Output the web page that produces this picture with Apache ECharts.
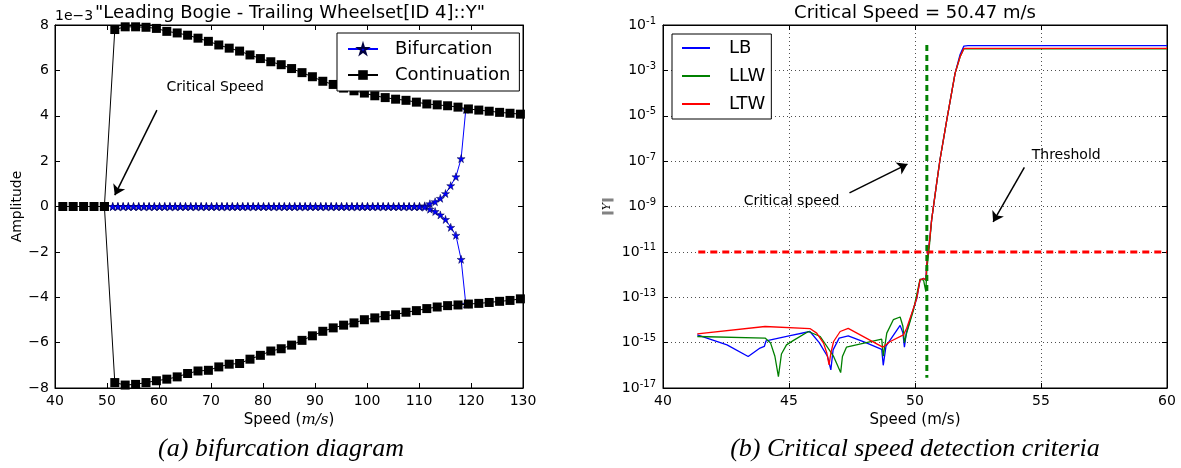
<!DOCTYPE html>
<html>
<head>
<meta charset="utf-8">
<script src="https://cdn.jsdelivr.net/npm/echarts@6/dist/echarts.min.js"></script>
<style>
html, body { margin: 0; padding: 0; background: #fff; }
#main { width: 1181px; height: 468px; }
</style>
</head>
<body>
<div id="main"></div>
<script>
// ---- (a) bifurcation diagram, amplitude in units of 1e-3 ----
var contSpeed = [41.5, 43.5, 45.5, 47.5, 49.5, 51.5, 53.5, 55.5, 57.5, 59.5,
  61.5, 63.5, 65.5, 67.5, 69.5, 71.5, 73.5, 75.5, 77.5, 79.5,
  81.5, 83.5, 85.5, 87.5, 89.5, 91.5, 93.5, 95.5, 97.5, 99.5,
  101.5, 103.5, 105.5, 107.5, 109.5, 111.5, 113.5, 115.5, 117.5, 119.5,
  121.5, 123.5, 125.5, 127.5, 129.5];
var contUpper = [0, 0, 0, 0, 0, 7.80, 7.92, 7.92, 7.90, 7.85,
  7.72, 7.65, 7.55, 7.42, 7.28, 7.12, 6.98, 6.85, 6.68, 6.52,
  6.38, 6.25, 6.08, 5.90, 5.72, 5.52, 5.38, 5.22, 5.10, 5.00,
  4.88, 4.80, 4.73, 4.68, 4.60, 4.52, 4.48, 4.44, 4.38, 4.30,
  4.25, 4.20, 4.15, 4.11, 4.07];
var contLower = [null, null, null, null, 0, -7.76, -7.87, -7.84, -7.76, -7.68,
  -7.61, -7.51, -7.36, -7.25, -7.22, -7.07, -6.95, -6.92, -6.73, -6.56,
  -6.37, -6.27, -6.11, -5.90, -5.70, -5.50, -5.35, -5.23, -5.13, -4.99,
  -4.91, -4.81, -4.77, -4.66, -4.59, -4.50, -4.43, -4.37, -4.34, -4.30,
  -4.27, -4.23, -4.18, -4.14, -4.07];

var bifSpeed = [51.1, 52.1, 53.1, 54.1, 55.1, 56.1, 57.1, 58.1, 59.1, 60.1,
  61.1, 62.1, 63.1, 64.1, 65.1, 66.1, 67.1, 68.1, 69.1, 70.1,
  71.1, 72.1, 73.1, 74.1, 75.1, 76.1, 77.1, 78.1, 79.1, 80.1,
  81.1, 82.1, 83.1, 84.1, 85.1, 86.1, 87.1, 88.1, 89.1, 90.1,
  91.1, 92.1, 93.1, 94.1, 95.1, 96.1, 97.1, 98.1, 99.1, 100.1,
  101.1, 102.1, 103.1, 104.1, 105.1, 106.1, 107.1, 108.1, 109.1, 110.1,
  111.1, 112.1, 113.1, 114.1, 115.1, 116.1, 117.1, 118.1, 119.0];
var bifUpper = [0, 0, 0, 0, 0, 0, 0, 0, 0, 0,
  0, 0, 0, 0, 0, 0, 0, 0, 0, 0,
  0, 0, 0, 0, 0, 0, 0, 0, 0, 0,
  0, 0, 0, 0, 0, 0, 0, 0, 0, 0,
  0, 0, 0, 0, 0, 0, 0, 0, 0, 0,
  0, 0, 0, 0, 0, 0, 0, 0, 0, 0.01,
  0.03, 0.12, 0.21, 0.36, 0.57, 0.92, 1.31, 2.11, 4.28];
var bifLower = [0, 0, 0, 0, 0, 0, 0, 0, 0, 0,
  0, 0, 0, 0, 0, 0, 0, 0, 0, 0,
  0, 0, 0, 0, 0, 0, 0, 0, 0, 0,
  0, 0, 0, 0, 0, 0, 0, 0, 0, 0,
  0, 0, 0, 0, 0, 0, 0, 0, 0, 0,
  0, 0, 0, 0, 0, 0, 0, 0, 0, -0.01,
  -0.03, -0.12, -0.22, -0.37, -0.57, -0.92, -1.27, -2.33, -4.30];

// ---- (b) critical speed detection, values are log10 ||Y|| ----
var lbSpeed = [41.36, 42.54, 43.38, 43.85, 44.02, 44.09, 45.0, 45.83, 46.2, 46.53,
  46.66, 46.75, 46.99, 47.35, 48.0, 48.68, 48.74, 48.85, 49.14, 49.41,
  49.52, 49.58, 49.65, 49.87, 50.07, 50.2, 50.34, 50.43, 50.47, 50.58,
  50.66, 50.86, 50.99, 51.26, 51.59, 51.79, 51.94, 52.1, 60];
var lbLog = [-14.66, -15.10, -15.61, -15.24, -15.17, -14.92, -14.70, -14.51, -15.0, -15.61,
  -16.2, -15.32, -14.80, -14.70, -14.98, -15.30, -16.0, -15.15, -14.68, -14.24,
  -14.57, -15.2, -14.60, -13.75, -13.05, -12.24, -12.17, -12.24, -11.5, -10.48,
  -9.59, -7.97, -6.95, -5.19, -3.13, -2.30, -1.93, -1.91, -1.91];

var llwSpeed = [41.36, 44.05, 44.27, 44.44, 44.58, 44.7, 44.9, 45.18, 45.77, 46.24,
  46.77, 47.05, 47.12, 47.28, 48.68, 48.74, 48.88, 49.14, 49.41, 49.52,
  49.58, 49.67, 49.94, 50.2, 50.34, 50.43, 50.47, 50.58, 50.66, 50.86,
  50.99, 51.26, 51.59, 51.79, 51.94, 60];
var llwLog = [-14.73, -14.80, -15.02, -15.6, -16.5, -15.5, -15.1, -14.9, -14.51, -14.73,
  -15.61, -16.32, -15.61, -15.2, -14.85, -15.6, -14.58, -13.99, -13.87, -14.28,
  -15.0, -14.57, -13.56, -12.2, -12.24, -12.75, -11.79, -10.63, -9.59, -7.97,
  -6.95, -5.19, -3.13, -2.40, -2.05, -2.05];

var ltwSpeed = [41.36, 44.05, 45.83, 46.10, 46.37, 46.5, 46.59, 46.66, 46.77, 47.03,
  47.35, 48.72, 49.0, 49.54, 49.67, 49.87, 50.07, 50.2, 50.34, 50.43,
  50.47, 50.58, 50.66, 50.86, 50.99, 51.26, 51.59, 51.79, 51.94, 60];
var ltwLog = [-14.61, -14.29, -14.38, -14.58, -15.02, -15.46, -15.98, -15.46, -14.95, -14.51,
  -14.37, -15.2, -14.96, -14.66, -14.37, -13.71, -13.05, -12.24, -12.17, -12.24,
  -11.5, -10.48, -9.59, -7.97, -6.95, -5.19, -3.13, -2.40, -2.03, -2.03];

var criticalSpeed = 50.47;
var criticalSpan = [-1.88, -16.55];
var thresholdLog = -11;
var thresholdSpan = [41.4, 60];

function zip(xs, ys) {
  var out = [];
  for (var i = 0; i < xs.length; i++) out.push([xs[i], ys[i]]);
  return out;
}

var FONT = 'DejaVu Sans';
var STAR = 'path://M50,0 L61,35 L98,35 L68,57 L79,91 L50,70 L21,91 L32,57 L2,35 L39,35 Z';

var chart = echarts.init(document.getElementById('main'), null, { renderer: 'canvas' });

function frameAxis(gridIndex, pos, min, max, interval) {
  return {
    type: 'value', gridIndex: gridIndex, position: pos,
    min: min, max: max, interval: interval,
    axisLine: { show: true, onZero: false, lineStyle: { color: '#000', width: 1 } },
    axisTick: { show: true, inside: true, length: 5, lineStyle: { color: '#000' } },
    axisLabel: { show: false },
    splitLine: { show: false }
  };
}

var option = {
  animation: false,
  backgroundColor: '#fff',
  textStyle: { fontFamily: FONT },
  grid: [
    { left: 55, right: 658, top: 25, bottom: 80, show: true, borderColor: '#000', borderWidth: 1, containLabel: false },
    { left: 663, right: 14, top: 25, bottom: 80, show: true, borderColor: '#000', borderWidth: 1, containLabel: false }
  ],
  legend: [
    {
      data: ['Bifurcation', 'Continuation'],
      orient: 'vertical', left: 337, top: 33,
      padding: [7, 9, 7, 10], itemGap: 8, itemWidth: 30, itemHeight: 12,
      borderColor: '#000', borderWidth: 1, borderRadius: 0, backgroundColor: '#fff',
      textStyle: { fontSize: 18, color: '#000', fontFamily: FONT, padding: [0, 0, 0, 12] },
      selectedMode: false
    },
    {
      data: ['LB', 'LLW', 'LTW'],
      orient: 'vertical', left: 672, top: 34,
      icon: 'rect',
      padding: [5, 6, 6, 10], itemGap: 10, itemWidth: 28, itemHeight: 2,
      borderColor: '#000', borderWidth: 1, borderRadius: 0, backgroundColor: '#fff',
      textStyle: { fontSize: 18, color: '#000', fontFamily: FONT, padding: [0, 0, 0, 14] },
      selectedMode: false
    }
  ],
  xAxis: [
    {
      type: 'value', gridIndex: 0, position: 'bottom', min: 40, max: 130, interval: 10,
      name: 'Speed ({i|m/s})', nameLocation: 'middle', nameGap: 22,
      nameTextStyle: { fontSize: 15, color: '#000', fontFamily: FONT,
        rich: { i: { fontSize: 15, fontStyle: 'italic', fontFamily: 'DejaVu Serif', color: '#000' } } },
      axisLine: { show: true, onZero: false, lineStyle: { color: '#000' } },
      axisTick: { show: true, inside: true, length: 5, lineStyle: { color: '#000' } },
      axisLabel: { fontSize: 14, color: '#000', margin: 6, fontFamily: FONT },
      splitLine: { show: false }
    },
    frameAxis(0, 'top', 40, 130, 10),
    {
      type: 'value', gridIndex: 1, position: 'bottom', min: 40, max: 60, interval: 5,
      name: 'Speed (m/s)', nameLocation: 'middle', nameGap: 22,
      nameTextStyle: { fontSize: 15, color: '#000', fontFamily: FONT },
      axisLine: { show: true, onZero: false, lineStyle: { color: '#000' } },
      axisTick: { show: true, inside: true, length: 5, lineStyle: { color: '#000' } },
      axisLabel: { fontSize: 14, color: '#000', margin: 6, fontFamily: FONT },
      splitLine: { show: true, lineStyle: { color: '#222', width: 0.8, type: [1, 3] } }
    },
    frameAxis(1, 'top', 40, 60, 5)
  ],
  yAxis: [
    {
      type: 'value', gridIndex: 0, position: 'left', min: -8, max: 8, interval: 2,
      name: 'Amplitude', nameLocation: 'middle', nameGap: 30, nameRotate: 90,
      nameTextStyle: { fontSize: 14, color: '#000', fontFamily: FONT },
      axisLine: { show: true, onZero: false, lineStyle: { color: '#000' } },
      axisTick: { show: true, inside: true, length: 5, lineStyle: { color: '#000' } },
      axisLabel: { fontSize: 14, color: '#000', margin: 6, fontFamily: FONT,
        formatter: function (v) { return String(v).replace('-', '\u2212'); } },
      splitLine: { show: false }
    },
    frameAxis(0, 'right', -8, 8, 2),
    {
      type: 'value', gridIndex: 1, position: 'left', min: -17, max: -1, interval: 2,
      name: '\u2016Y\u2016', nameLocation: 'middle', nameGap: 50, nameRotate: 90,
      nameTextStyle: { fontSize: 11, color: '#000', fontFamily: 'DejaVu Serif', fontStyle: 'italic' },
      axisLine: { show: true, onZero: false, lineStyle: { color: '#000' } },
      axisTick: { show: true, inside: true, length: 5, lineStyle: { color: '#000' } },
      axisLabel: { color: '#000', margin: 7, fontFamily: FONT,
        formatter: function (v) { return '{b|10}{s|' + v + '}'; },
        rich: {
          b: { fontSize: 14, color: '#000', fontFamily: FONT, lineHeight: 18 },
          s: { fontSize: 10, color: '#000', fontFamily: FONT, verticalAlign: 'top', lineHeight: 18, padding: [0, 0, 6, 0] }
        } },
      splitLine: { show: true, lineStyle: { color: '#222', width: 0.8, type: [1, 3] } }
    },
    frameAxis(1, 'right', -17, -1, 2)
  ],
  series: [
    {
      name: 'Bifurcation', type: 'line', xAxisIndex: 0, yAxisIndex: 0,
      data: zip(bifSpeed, bifUpper),
      symbol: STAR, symbolSize: 8, showAllSymbol: true,
      lineStyle: { color: '#0000ff', width: 1 },
      itemStyle: { color: '#0000ff', borderColor: '#000040', borderWidth: 0.5 },
      z: 2
    },
    {
      name: 'Bifurcation', type: 'line', xAxisIndex: 0, yAxisIndex: 0,
      data: zip(bifSpeed, bifLower),
      symbol: STAR, symbolSize: 8, showAllSymbol: true,
      lineStyle: { color: '#0000ff', width: 1 },
      itemStyle: { color: '#0000ff', borderColor: '#000040', borderWidth: 0.5 },
      z: 2
    },
    {
      name: 'Continuation', type: 'line', xAxisIndex: 0, yAxisIndex: 0,
      data: zip(contSpeed, contUpper),
      symbol: 'rect', symbolSize: 9, showAllSymbol: true,
      lineStyle: { color: '#000', width: 1 },
      itemStyle: { color: '#000' },
      z: 3,
      markLine: {
        silent: true, symbol: ['none', 'arrow'], symbolSize: 10,
        label: { show: false },
        lineStyle: { color: '#000', width: 1.5, type: 'solid' },
        data: [[{ coord: [59.6, 4.25] }, { coord: [51.5, 0.5] }]]
      },
      markPoint: {
        silent: true, symbol: 'rect', symbolSize: 1,
        itemStyle: { color: 'rgba(0,0,0,0)' },
        label: { show: true, position: 'inside', formatter: '{b}', color: '#000', fontSize: 14, fontFamily: FONT },
        data: [{ name: 'Critical Speed', coord: [70.8, 5.25] }]
      }
    },
    {
      name: 'Continuation', type: 'line', xAxisIndex: 0, yAxisIndex: 0,
      data: zip(contSpeed, contLower),
      symbol: 'rect', symbolSize: 9, showAllSymbol: true,
      lineStyle: { color: '#000', width: 1 },
      itemStyle: { color: '#000' },
      z: 3
    },
    {
      name: 'Threshold', type: 'line', xAxisIndex: 2, yAxisIndex: 2,
      data: [[thresholdSpan[0], thresholdLog], [thresholdSpan[1], thresholdLog]],
      symbol: 'none',
      lineStyle: { color: '#ff0000', width: 3, type: [7, 5] },
      z: 2
    },
    {
      name: 'LB', type: 'line', xAxisIndex: 2, yAxisIndex: 2,
      data: zip(lbSpeed, lbLog), symbol: 'none',
      lineStyle: { color: '#0000ff', width: 1.3 }, itemStyle: { color: '#0000ff' }, z: 3
    },
    {
      name: 'LLW', type: 'line', xAxisIndex: 2, yAxisIndex: 2,
      data: zip(llwSpeed, llwLog), symbol: 'none',
      lineStyle: { color: '#008000', width: 1.3 }, itemStyle: { color: '#008000' }, z: 3
    },
    {
      name: 'LTW', type: 'line', xAxisIndex: 2, yAxisIndex: 2,
      data: zip(ltwSpeed, ltwLog), symbol: 'none',
      lineStyle: { color: '#ff0000', width: 1.3 }, itemStyle: { color: '#ff0000' }, z: 3,
      markLine: {
        silent: true, symbol: ['none', 'arrow'], symbolSize: 10,
        label: { show: false },
        lineStyle: { color: '#000', width: 1.5, type: 'solid' },
        data: [
          [{ coord: [47.4, -8.4] }, { coord: [49.7, -7.13] }],
          [{ coord: [54.34, -7.28] }, { coord: [53.1, -9.68] }]
        ]
      },
      markPoint: {
        silent: true, symbol: 'rect', symbolSize: 1,
        itemStyle: { color: 'rgba(0,0,0,0)' },
        label: { show: true, position: 'inside', formatter: '{b}', color: '#000', fontSize: 14, fontFamily: FONT },
        data: [
          { name: 'Critical speed', coord: [45.1, -8.79] },
          { name: 'Threshold', coord: [56.0, -6.76] }
        ]
      }
    },
    {
      name: 'Critical', type: 'line', xAxisIndex: 2, yAxisIndex: 2,
      data: [[criticalSpeed, criticalSpan[0]], [criticalSpeed, criticalSpan[1]]],
      symbol: 'none',
      lineStyle: { color: '#008000', width: 3, type: [6, 4] },
      z: 4
    }
  ],
  graphic: [
    { type: 'text', x: 55, y: 16, style: { text: '1e\u22123', fontSize: 14, fontFamily: FONT, fill: '#000', textAlign: 'left', textVerticalAlign: 'middle' } },
    { type: 'text', x: 290, y: 13, style: { text: '"Leading Bogie - Trailing Wheelset[ID 4]::Y"', fontSize: 18, fontFamily: FONT, fill: '#000', textAlign: 'center', textVerticalAlign: 'middle' } },
    { type: 'text', x: 915, y: 13, style: { text: 'Critical Speed = 50.47 m/s', fontSize: 18, fontFamily: FONT, fill: '#000', textAlign: 'center', textVerticalAlign: 'middle' } },
    { type: 'text', x: 281, y: 449, style: { text: '(a) bifurcation diagram', fontSize: 26, fontStyle: 'italic', fontFamily: 'Liberation Serif', fill: '#000', textAlign: 'center', textVerticalAlign: 'middle' } },
    { type: 'text', x: 915, y: 449, style: { text: '(b) Critical speed detection criteria', fontSize: 26, fontStyle: 'italic', fontFamily: 'Liberation Serif', fill: '#000', textAlign: 'center', textVerticalAlign: 'middle' } }
  ]
};

chart.setOption(option);
</script>
</body>
</html>
